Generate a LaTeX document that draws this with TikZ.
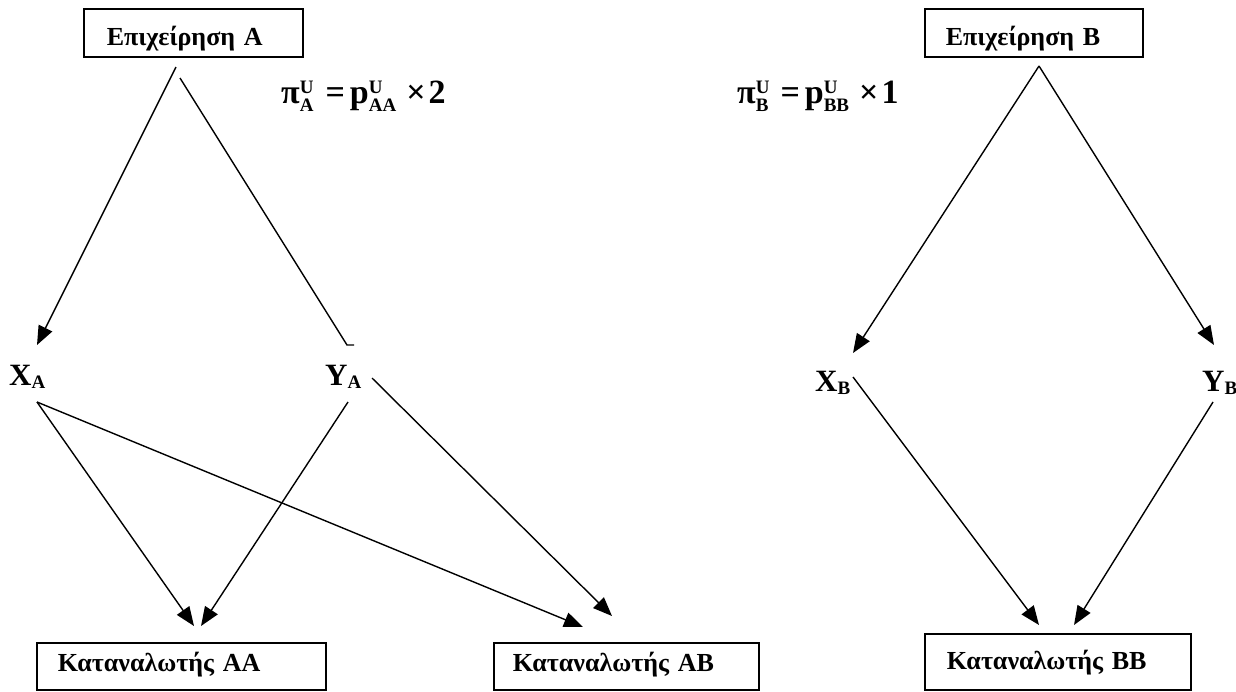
\documentclass[tikz,border=0pt]{standalone}
\usepackage{fontspec}
\setmainfont{Liberation Serif}
\usetikzlibrary{arrows.meta}
\newcommand{\sbf}[1]{{\fontsize{19}{19}\selectfont #1}}
\newcommand{\vsub}[1]{\raisebox{-3pt}{\fontsize{19}{19}\selectfont #1}}
\begin{document}
\begin{tikzpicture}[x=1pt,y=-1pt,
  boxst/.style={draw, line width=1.5pt, anchor=north west, inner ysep=0pt, align=left,
    font=\fontsize{26}{26}\selectfont\bfseries},
  conn/.style={line width=1.4pt, -{Triangle[length=19pt,width=15pt]}},
  plainline/.style={line width=1.4pt},
  var/.style={anchor=base west, inner sep=0pt, font=\fontsize{31}{31}\selectfont\bfseries},
  frm/.style={anchor=base west, inner sep=0pt, font=\fontsize{34}{34}\selectfont\bfseries}]
\useasboundingbox (0,0) rectangle (1236,691);

% boxes
\node[boxst, inner xsep=23pt, text width=173pt, text height=37pt, text depth=11pt] (firmA) at (83,8) {Επιχείρηση A};
\node[boxst, inner xsep=21pt, text width=176pt, text height=37pt, text depth=11pt] (firmB) at (924,8) {Επιχείρηση B};
\node[boxst, inner xsep=21pt, text width=247pt, text height=29pt, text depth=18pt] (consAA) at (36,642) {Καταναλωτής AA};
\node[boxst, inner xsep=19pt, text width=227pt, text height=29pt, text depth=18pt] (consAB) at (493,642) {Καταναλωτής AB};
\node[boxst, inner xsep=22pt, text width=222pt, text height=36pt, text depth=20pt] (consBB) at (924,633) {Καταναλωτής BB};

% formulas
\node[frm] (fA) at (281,103) {π\rlap{\raisebox{10pt}{\sbf{U}}}\raisebox{-8pt}{\sbf{A}}\hspace{12pt}=\hspace{5pt}p\rlap{\raisebox{10pt}{\sbf{U}}}\raisebox{-8pt}{\sbf{AA}}\hspace{10pt}×\hspace{3pt}2};
\node[frm] (fB) at (737,103) {π\rlap{\raisebox{10pt}{\sbf{U}}}\raisebox{-8pt}{\sbf{B}}\hspace{12pt}=\hspace{5pt}p\rlap{\raisebox{10pt}{\sbf{U}}}\raisebox{-8pt}{\sbf{BB}}\hspace{10pt}×\hspace{3pt}1};

% variables
\node[var] (xA) at (9,385) {X\vsub{A}};
\node[var] (yA) at (325,385) {Y\vsub{A}};
\node[var] (xB) at (815,391) {X\vsub{B}};
\node[var] (yB) at (1202,391) {Y\vsub{B}};

% connector end points
\coordinate (pA1) at (176,67);
\coordinate (pA2) at (180,78);
\coordinate (inXA) at (37,345);
\coordinate (inYA) at (347,345);
\coordinate (outXA) at (37,402);
\coordinate (outYA) at (348,402);
\coordinate (outYA2) at (372,378);
\coordinate (inAA1) at (194,626);
\coordinate (inAA2) at (201,626);
\coordinate (inAB1) at (583,627);
\coordinate (inAB2) at (612,616);
\coordinate (pB) at (1039,66);
\coordinate (inXB) at (853,353);
\coordinate (inYB) at (1214,345);
\coordinate (outXB) at (853,377);
\coordinate (outYB) at (1213,402);
\coordinate (inBB1) at (1039,625);
\coordinate (inBB2) at (1074,625);

% connectors
\draw[conn] (pA1) -- (inXA);
\draw[plainline] (pA2) -- (inYA) -- ++(7,0);
\draw[conn] (outXA) -- (inAA1);
\draw[conn] (outYA) -- (inAA2);
\draw[conn] (outXA) -- (inAB1);
\draw[conn] (outYA2) -- (inAB2);
\draw[conn] (pB) -- (inXB);
\draw[conn] (pB) -- (inYB);
\draw[conn] (outXB) -- (inBB1);
\draw[conn] (outYB) -- (inBB2);
\end{tikzpicture}
\end{document}
